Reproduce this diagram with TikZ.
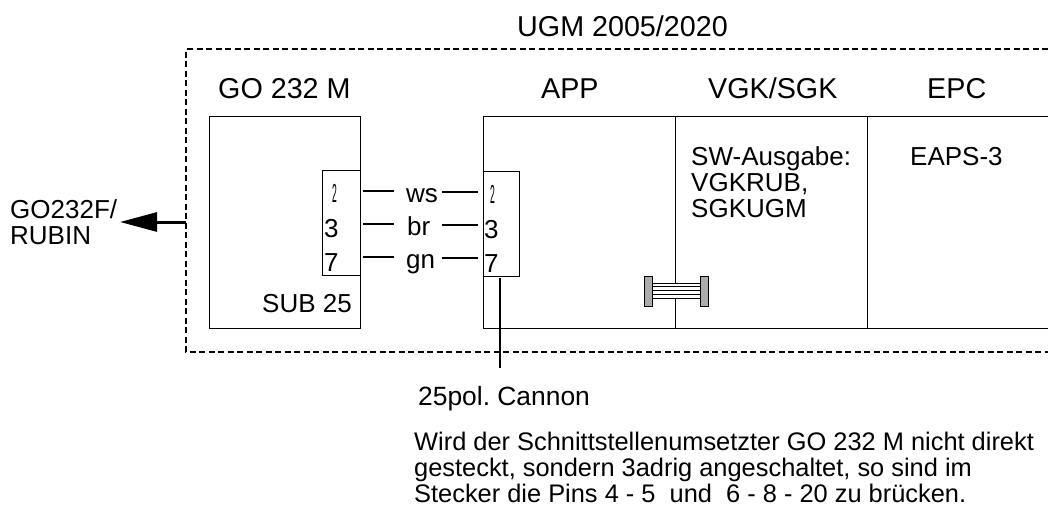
\documentclass[tikz,border=0pt]{standalone}
\usepackage{fontspec}
\usepackage{graphicx}
\setmainfont{Liberation Sans}
\usetikzlibrary{arrows.meta}
\tikzset{
  x=1pt,y=-1pt,
  box/.style={draw,line width=1pt,inner sep=0pt,anchor=north west},
  title/.style={inner sep=0pt,anchor=base west,font=\fontsize{28.7}{29}\selectfont},
  label/.style={inner sep=0pt,anchor=base west,font=\fontsize{26}{26}\selectfont},
  multi/.style={inner sep=0pt,anchor=base west,align=left,font=\fontsize{26}{26}\selectfont},
  wire/.style={line width=1.6pt},
  frame/.style={line width=1.2pt,dash pattern=on 6pt off 3.5pt},
  wall/.style={line width=1pt},
  plug/.style={box,fill=gray!65,minimum width=8pt,minimum height=30pt}
}
\newcommand{\narrowtwo}{\scalebox{0.33}[1]{2}}
\frenchspacing
\begin{document}
\begin{tikzpicture}
\useasboundingbox (0,0) rectangle (1048,506);
% dashed frame
\coordinate (fTR) at (1048,49);
\coordinate (fTL) at (186,49);
\coordinate (fBL) at (186,352);
\coordinate (fBR) at (1048,352);
\coordinate (fArrow) at (186,222);
\draw[frame] (fTR) -- (fTL) -- (fBL) -- (fBR);
% GO box
\node[box,minimum width=151pt,minimum height=212pt] (go) at (209,116) {};
\node[box,minimum width=38pt,minimum height=105pt] (goc) at (322,170) {};
% App/VGK/EPC box
\coordinate (aTL) at (483,116);
\coordinate (aTR) at (1048,116);
\coordinate (aBL) at (483,328);
\coordinate (aBR) at (1048,328);
\draw[wall] (aTR) -- (aTL) -- (aBL) -- (aBR);
\coordinate (d1t) at (675,116);
\coordinate (d1a) at (675,283);
\coordinate (d1b) at (675,298);
\coordinate (d1e) at (675,328);
\coordinate (d2t) at (867,116);
\coordinate (d2e) at (867,328);
\draw[wall] (d1t) -- (d1a) (d1b) -- (d1e) (d2t) -- (d2e);
\node[box,minimum width=36pt,minimum height=104.5pt] (appc) at (483,171) {};
% cannon line
\coordinate (cannon) at (500,368);
\coordinate (cannonTop) at (500,278);
\draw[wire] (cannonTop) -- (cannon);
% arrow
\node[multi,font=\fontsize{26}{25.5}\selectfont] (gof) at (10,244) {GO232F/\\RUBIN};
\coordinate (arrowTip) at (120,222);
\draw[line width=3pt,-{Triangle[length=37pt,width=19pt]}] (fArrow) -- (arrowTip);
% titles
\node[title] (ugm) at (517,36) {UGM 2005/2020};
\node[title] (tgo) at (218,98) {GO 232 M};
\node[title] (tapp) at (541,98) {APP};
\node[title] (tvgk) at (708,98) {VGK/SGK};
\node[title] (tepc) at (927,98) {EPC};
\node[multi] (sw) at (691,217) {SW-Ausgabe:\\VGKRUB,\\SGKUGM};
\node[label] (eaps) at (910,165) {EAPS-3};
\node[label] (sub) at (262,312) {SUB 25};
% pins left
\node[label] (l2) at (332,202) {\narrowtwo};
\node[label] (l3) at (324,237) {3};
\node[label] (l7) at (324,271) {7};
% pins right
\node[label] (r2) at (490,203) {\narrowtwo};
\node[label] (r3) at (484,238) {3};
\node[label] (r7) at (484,272) {7};
% wire names
\node[label] (ws) at (406,202) {ws};
\node[label] (br) at (407,235) {br};
\node[label] (gn) at (406,268) {gn};
\coordinate (w1) at (363,191);
\coordinate (w2) at (363,224);
\coordinate (w3) at (363,257);
\draw[wire] (w1) -- +(31,0);
\draw[wire] (w2) -- +(31,0);
\draw[wire] (w3) -- +(31,0);
\coordinate (e1) at (478,192);
\coordinate (e2) at (478,225);
\coordinate (e3) at (478,258);
\draw[wire] (e1) -- +(-36,0);
\draw[wire] (e2) -- +(-36,0);
\draw[wire] (e3) -- +(-36,0);
% ribbon cable
\node[plug] (cl) at (644,275.5) {};
\node[plug] (cr) at (700,275.5) {};
\foreach \i/\yy in {0/283,1/286.7,2/290.5,3/294.2,4/298}{
  \coordinate (ca\i) at (652,\yy);
  \coordinate (cb\i) at (700,\yy);
  \draw[line width=1pt] (ca\i) -- (cb\i);
}
% notes
\node[label,font=\fontsize{26.4}{26}\selectfont] (pol) at (418,405) {25pol. Cannon};
\node[multi,font=\fontsize{25.4}{26}\selectfont] (note) at (414,502) {Wird der Schnittstellenumsetzter GO 232 M nicht direkt\\gesteckt, sondern 3adrig angeschaltet, so sind im\\Stecker die Pins 4 - 5~ und~ 6 - 8 - 20 zu brücken.};
\end{tikzpicture}
\end{document}
